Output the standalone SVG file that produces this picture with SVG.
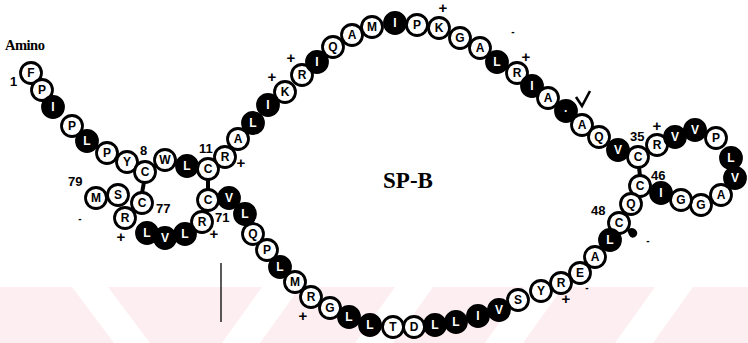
<svg xmlns="http://www.w3.org/2000/svg" width="748" height="343" viewBox="0 0 748 343">
<style>
.w circle{fill:#fff;stroke:#000;stroke-width:2.8}
.b circle{fill:#000;stroke:#000;stroke-width:2.8}
.w text{fill:#000}
.b text{fill:#fff}
.aa{font-family:"Liberation Sans",Arial,sans-serif;font-weight:bold;font-size:12px;text-anchor:middle}
.num{font-family:"Liberation Sans",Arial,sans-serif;font-weight:bold;font-size:13px;fill:#000}
.chg{font-family:"Liberation Sans",Arial,sans-serif;font-weight:bold;font-size:15px;fill:#000;text-anchor:middle}
.ss{stroke:#000;stroke-width:4;stroke-linecap:butt}
</style>
<rect width="748" height="343" fill="#fff"/>
<g id="watermark">
<rect x="0" y="287" width="748" height="56" fill="#fdeef1"/>
<g fill="#fff">
<polygon points="72,287 108,287 150,343 114,343"/>
<polygon points="262,287 300,287 260,343 222,343"/>
<polygon points="395,287 433,287 393,343 355,343"/>
<polygon points="525,287 563,287 523,343 485,343"/>
<polygon points="655,287 693,287 653,343 615,343"/>
</g>
</g>
<line x1="221" y1="263" x2="221" y2="322" stroke="#000" stroke-width="1.3"/>
<g id="connectors">
<line class="ss" x1="144" y1="182" x2="142" y2="193"/>
<line class="ss" x1="208" y1="179" x2="208" y2="190"/>
<line class="ss" x1="639" y1="167" x2="640" y2="176"/>
</g>
<g class="aa">
<g id="r1" class="w"><circle cx="31" cy="73" r="10.5"/><text x="31" y="77">F</text></g>
<g id="r2" class="w"><circle cx="42" cy="90" r="10.5"/><text x="42" y="94">P</text></g>
<g id="r3" class="b"><circle cx="53" cy="107" r="10.5"/><text x="53" y="111">I</text></g>
<g id="r4" class="w"><circle cx="72" cy="126" r="10.5"/><text x="72" y="130">P</text></g>
<g id="r5" class="b"><circle cx="87" cy="141" r="10.5"/><text x="87" y="145">L</text></g>
<g id="r6" class="w"><circle cx="107" cy="153" r="10.5"/><text x="107" y="157">P</text></g>
<g id="r7" class="w"><circle cx="127" cy="162" r="10.5"/><text x="127" y="166">Y</text></g>
<g id="r8" class="w"><circle cx="145" cy="172" r="10.5"/><text x="145" y="176">C</text></g>
<g id="r9" class="w"><circle cx="165" cy="160" r="10.5"/><text x="165" y="164">W</text></g>
<g id="r10" class="b"><circle cx="187" cy="166" r="10.5"/><text x="187" y="170">L</text></g>
<g id="r11" class="w"><circle cx="208" cy="169" r="10.5"/><text x="208" y="173">C</text></g>
<g id="r12" class="w"><circle cx="225" cy="157" r="10.5"/><text x="225" y="161">R</text></g>
<g id="r13" class="w"><circle cx="238" cy="139" r="10.5"/><text x="238" y="143">A</text></g>
<g id="r14" class="b"><circle cx="253" cy="123" r="10.5"/><text x="253" y="127">L</text></g>
<g id="r15" class="b"><circle cx="268" cy="105" r="10.5"/><text x="268" y="109">I</text></g>
<g id="r16" class="w"><circle cx="285" cy="92" r="10.5"/><text x="285" y="96">K</text></g>
<g id="r17" class="w"><circle cx="302" cy="75" r="10.5"/><text x="302" y="79">R</text></g>
<g id="r18" class="b"><circle cx="317" cy="62" r="10.5"/><text x="317" y="66">I</text></g>
<g id="r19" class="w"><circle cx="333" cy="47" r="10.5"/><text x="333" y="51">Q</text></g>
<g id="r20" class="w"><circle cx="352" cy="35" r="10.5"/><text x="352" y="39">A</text></g>
<g id="r21" class="w"><circle cx="372" cy="27" r="10.5"/><text x="372" y="31">M</text></g>
<g id="r22" class="b"><circle cx="395" cy="23" r="10.5"/><text x="395" y="27">I</text></g>
<g id="r23" class="w"><circle cx="417" cy="25" r="10.5"/><text x="417" y="29">P</text></g>
<g id="r24" class="w"><circle cx="439" cy="28" r="10.5"/><text x="439" y="32">K</text></g>
<g id="r25" class="w"><circle cx="460" cy="38" r="10.5"/><text x="460" y="42">G</text></g>
<g id="r26" class="w"><circle cx="480" cy="48" r="10.5"/><text x="480" y="52">A</text></g>
<g id="r27" class="b"><circle cx="497" cy="62" r="10.5"/><text x="497" y="66">L</text></g>
<g id="r28" class="w"><circle cx="517" cy="73" r="10.5"/><text x="517" y="77">R</text></g>
<g id="r29" class="b"><circle cx="532" cy="86" r="10.5"/><text x="532" y="90">I</text></g>
<g id="r30" class="w"><circle cx="548" cy="98" r="10.5"/><text x="548" y="102">A</text></g>
<g id="r31" class="b"><circle cx="566" cy="111" r="10.5"/><text x="566" y="115">·</text></g>
<g id="r32" class="w"><circle cx="582" cy="125" r="10.5"/><text x="582" y="129">A</text></g>
<g id="r33" class="w"><circle cx="599" cy="137" r="10.5"/><text x="599" y="141">Q</text></g>
<g id="r34" class="b"><circle cx="618" cy="150" r="10.5"/><text x="618" y="154">V</text></g>
<g id="r35" class="w"><circle cx="638" cy="157" r="10.5"/><text x="638" y="161">C</text></g>
<g id="r36" class="w"><circle cx="657" cy="145" r="10.5"/><text x="657" y="149">R</text></g>
<g id="r37" class="b"><circle cx="675" cy="137" r="10.5"/><text x="675" y="141">V</text></g>
<g id="r38" class="b"><circle cx="695" cy="130" r="10.5"/><text x="695" y="134">V</text></g>
<g id="r39" class="w"><circle cx="716" cy="138" r="10.5"/><text x="716" y="142">P</text></g>
<g id="r40" class="b"><circle cx="731" cy="158" r="10.5"/><text x="731" y="162">L</text></g>
<g id="r41" class="b"><circle cx="735" cy="178" r="10.5"/><text x="735" y="182">V</text></g>
<g id="r42" class="w"><circle cx="721" cy="195" r="10.5"/><text x="721" y="199">A</text></g>
<g id="r43" class="w"><circle cx="701" cy="205" r="10.5"/><text x="701" y="209">G</text></g>
<g id="r44" class="w"><circle cx="681" cy="200" r="10.5"/><text x="681" y="204">G</text></g>
<g id="r45" class="b"><circle cx="661" cy="193" r="10.5"/><text x="661" y="197">I</text></g>
<g id="r46" class="w"><circle cx="640" cy="186" r="10.5"/><text x="640" y="190">C</text></g>
<g id="r47" class="w"><circle cx="631" cy="204" r="10.5"/><text x="631" y="208">Q</text></g>
<g id="r48" class="w"><circle cx="619" cy="223" r="10.5"/><text x="619" y="227">C</text></g>
<g id="r49" class="b"><circle cx="610" cy="240" r="10.5"/><text x="610" y="244">L</text></g>
<g id="r50" class="w"><circle cx="595" cy="257" r="10.5"/><text x="595" y="261">A</text></g>
<g id="r51" class="w"><circle cx="580" cy="273" r="10.5"/><text x="580" y="277">E</text></g>
<g id="r52" class="w"><circle cx="561" cy="283" r="10.5"/><text x="561" y="287">R</text></g>
<g id="r53" class="w"><circle cx="541" cy="291" r="10.5"/><text x="541" y="295">Y</text></g>
<g id="r54" class="w"><circle cx="518" cy="300" r="10.5"/><text x="518" y="304">S</text></g>
<g id="r55" class="b"><circle cx="499" cy="310" r="10.5"/><text x="499" y="314">V</text></g>
<g id="r56" class="b"><circle cx="478" cy="316" r="10.5"/><text x="478" y="320">I</text></g>
<g id="r57" class="b"><circle cx="456" cy="322" r="10.5"/><text x="456" y="326">L</text></g>
<g id="r58" class="b"><circle cx="435" cy="325" r="10.5"/><text x="435" y="329">L</text></g>
<g id="r59" class="w"><circle cx="414" cy="327" r="10.5"/><text x="414" y="331">D</text></g>
<g id="r60" class="w"><circle cx="393" cy="327" r="10.5"/><text x="393" y="331">T</text></g>
<g id="r61" class="b"><circle cx="370" cy="325" r="10.5"/><text x="370" y="329">L</text></g>
<g id="r62" class="b"><circle cx="349" cy="317" r="10.5"/><text x="349" y="321">L</text></g>
<g id="r63" class="w"><circle cx="330" cy="308" r="10.5"/><text x="330" y="312">G</text></g>
<g id="r64" class="w"><circle cx="311" cy="297" r="10.5"/><text x="311" y="301">R</text></g>
<g id="r65" class="w"><circle cx="295" cy="282" r="10.5"/><text x="295" y="286">M</text></g>
<g id="r66" class="b"><circle cx="280" cy="267" r="10.5"/><text x="280" y="271">L</text></g>
<g id="r67" class="w"><circle cx="267" cy="250" r="10.5"/><text x="267" y="254">P</text></g>
<g id="r68" class="w"><circle cx="253" cy="234" r="10.5"/><text x="253" y="238">Q</text></g>
<g id="r69" class="b"><circle cx="245" cy="214" r="10.5"/><text x="245" y="218">L</text></g>
<g id="r70" class="b"><circle cx="229" cy="198" r="10.5"/><text x="229" y="202">V</text></g>
<g id="r71" class="w"><circle cx="208" cy="200" r="10.5"/><text x="208" y="204">C</text></g>
<g id="r72" class="w"><circle cx="202" cy="222" r="10.5"/><text x="202" y="226">R</text></g>
<g id="r73" class="b"><circle cx="185" cy="234" r="10.5"/><text x="185" y="238">L</text></g>
<g id="r74" class="b"><circle cx="165" cy="238" r="10.5"/><text x="165" y="242">V</text></g>
<g id="r75" class="b"><circle cx="147" cy="233" r="10.5"/><text x="147" y="237">L</text></g>
<g id="r76" class="w"><circle cx="125" cy="218" r="10.5"/><text x="125" y="222">R</text></g>
<g id="r77" class="w"><circle cx="142" cy="203" r="10.5"/><text x="142" y="207">C</text></g>
<g id="r78" class="w"><circle cx="118" cy="195" r="10.5"/><text x="118" y="199">S</text></g>
<g id="r79" class="w"><circle cx="96" cy="198" r="10.5"/><text x="96" y="202">M</text></g>
</g>
<g id="labels">
<text x="5" y="50" font-family="Liberation Serif,serif" font-weight="bold" font-size="14.5" letter-spacing="-0.5">Amino</text>
<text x="408" y="188" font-family="Liberation Serif,serif" font-weight="bold" font-size="23" text-anchor="middle">SP-B</text>
<text class="num" x="10" y="86" font-size="10">1</text>
<text class="num" x="140" y="155">8</text>
<text class="num" x="199" y="153">11</text>
<text class="num" x="68" y="186">79</text>
<text class="num" x="156" y="213">77</text>
<text class="num" x="215" y="222">71</text>
<text class="num" x="630" y="141">35</text>
<text class="num" x="651" y="180">46</text>
<text class="num" x="591" y="215">48</text>
<g class="chg">
<text x="241" y="168">+</text>
<text x="272" y="82">+</text>
<text x="291" y="63">+</text>
<text x="443" y="13">+</text>
<text x="526" y="62">+</text>
<text x="657" y="131">+</text>
<text x="566" y="304">+</text>
<text x="303" y="321">+</text>
<text x="121" y="242">+</text>
<text x="214" y="239">+</text>
<text x="513" y="35" font-size="10">-</text>
<text x="648" y="244" font-size="10">-</text>
<text x="587" y="291" font-size="10">-</text>
<text x="80" y="222" font-size="10">-</text>
</g>
<path d="M576,97 L582,106 L590,91" fill="none" stroke="#000" stroke-width="2.6"/>
<path d="M627,230 q5,-4 9,0 q3,4 -1,7 q-4,2 -6,-2 z" fill="#000"/>
</g>
</svg>
